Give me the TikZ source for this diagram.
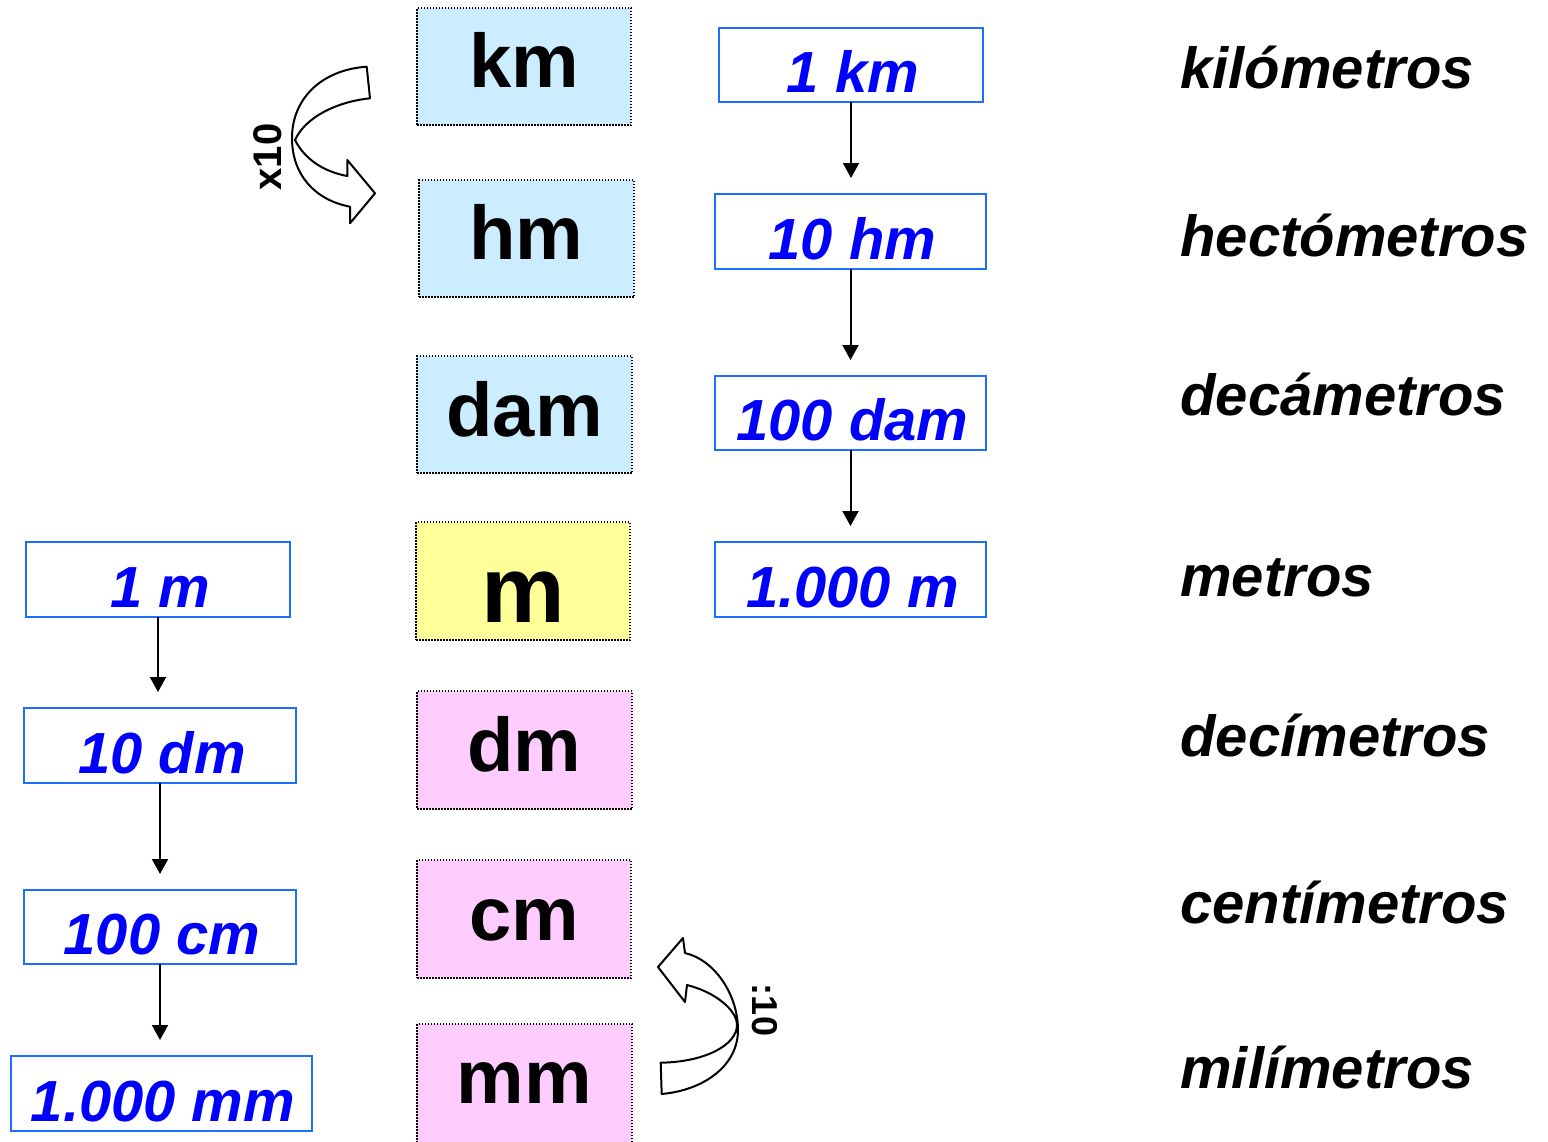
\documentclass[tikz,border=0pt]{standalone}
\usepackage{fontspec}
\setmainfont{Liberation Sans}
\usetikzlibrary{arrows.meta}
\definecolor{kmblue}{HTML}{CCECFF}
\definecolor{myyellow}{HTML}{FFFF99}
\definecolor{mypink}{HTML}{FFCCFF}
\definecolor{boxblue}{HTML}{1A6FFF}
\definecolor{txtblue}{HTML}{0000FF}
\tikzset{
 unitbox/.style={draw=black, line width=0.75pt, dash pattern=on 0.75pt off 0.75pt, inner sep=0pt, outer sep=0pt},
 valbox/.style={draw=boxblue, line width=1.35pt, fill=white, inner sep=0pt, outer sep=0pt},
 unittxt/.style={anchor=base, inner sep=0pt, font=\bfseries\fontsize{38}{40}\selectfont},
 valtxt/.style={anchor=base, inner sep=0pt, text=txtblue, font=\bfseries\itshape\fontsize{29}{31}\selectfont},
 lbltxt/.style={anchor=base west, inner sep=0pt, font=\bfseries\itshape\fontsize{29}{31}\selectfont},
 conv/.style={line width=1pt, -{Triangle[length=7.5pt,width=8pt]}, shorten >=8pt},
 bigarrow/.style={draw=black, line width=1pt, fill=white, line join=round}
}
\begin{document}
\begin{tikzpicture}[x=0.5pt,y=-0.5pt]
\path[use as bounding box] (0,0) rectangle (1548,1141);
% unit boxes
\node[unitbox, fill=kmblue, minimum width=107pt, minimum height=58.5pt] (ukm) at (524,66.5) {};
\node[unitbox, fill=kmblue, minimum width=107.5pt, minimum height=58.5pt] (uhm) at (526.5,238.5) {};
\node[unitbox, fill=kmblue, minimum width=107.5pt, minimum height=58.5pt] (udam) at (524.5,414.5) {};
\node[unitbox, fill=myyellow, minimum width=107pt, minimum height=59pt] (um) at (523,581) {};
\node[unitbox, fill=mypink, minimum width=107.5pt, minimum height=59pt] (udm) at (524.5,750) {};
\node[unitbox, fill=mypink, minimum width=107pt, minimum height=59pt] (ucm) at (524,919) {};
\node[unitbox, fill=mypink, minimum width=107.5pt, minimum height=61pt] (umm) at (524.5,1085) {};
\node[unittxt] (tkm) at (524,87) {km};
\node[unittxt] (thm) at (526.5,259) {hm};
\node[unittxt] (tdam) at (524.5,436) {dam};
\node[unittxt, font=\bfseries\fontsize{47}{50}\selectfont] (tm) at (523,622) {m};
\node[unittxt] (tdm) at (524.5,771) {dm};
\node[unittxt] (tcm) at (524,940) {cm};
\node[unittxt] (tmm) at (524.5,1103) {mm};
% right value boxes
\node[valbox, minimum width=132pt, minimum height=37pt] (r1) at (851,65) {};
\node[valbox, minimum width=135.5pt, minimum height=37.5pt] (r2) at (850.5,231.5) {};
\node[valbox, minimum width=135.5pt, minimum height=37pt] (r3) at (850.5,413) {};
\node[valbox, minimum width=135.5pt, minimum height=37.5pt] (r4) at (850.5,579.5) {};
\node[valtxt] (tr1) at (853,92) {1 km};
\node[valtxt] (tr2) at (852.5,259) {10 hm};
\node[valtxt] (tr3) at (852.5,440) {100 dam};
\node[valtxt] (tr4) at (852.5,607) {1.000 m};
\draw[conv] (r1.south) -- (r1.south |- r2.north);
\draw[conv] (r2.south) -- (r2.south |- r3.north);
\draw[conv] (r3.south) -- (r3.south |- r4.north);
% left value boxes
\node[valbox, minimum width=132pt, minimum height=37.5pt] (l1) at (158,579.5) {};
\node[valbox, minimum width=136pt, minimum height=37.5pt] (l2) at (160,745.5) {};
\node[valbox, minimum width=136pt, minimum height=37pt] (l3) at (160,927) {};
\node[valbox, minimum width=150.5pt, minimum height=37.5pt] (l4) at (161.5,1093.5) {};
\node[valtxt] (tl1) at (160,607) {1 m};
\node[valtxt] (tl2) at (162,773) {10 dm};
\node[valtxt] (tl3) at (162,954) {100 cm};
\node[valtxt] (tl4) at (163,1121) {\scalebox{1.0}[1]{1.000 mm}};
\draw[conv] (l1.south) -- (l1.south |- l2.north);
\draw[conv] (l2.south) -- (l2.south |- l3.north);
\draw[conv] (l3.south) -- (l3.south |- l4.north);
% names
\node[lbltxt] (n1) at (1180,88) {kilómetros};
\node[lbltxt] (n2) at (1180,256) {hectómetros};
\node[lbltxt] (n3) at (1180,415) {decámetros};
\node[lbltxt] (n4) at (1180,596) {metros};
\node[lbltxt] (n5) at (1180,756) {decímetros};
\node[lbltxt] (n6) at (1180,923) {centímetros};
\node[lbltxt] (n7) at (1180,1088) {milímetros};
% curved arrows
\draw[bigarrow] (366.7,66.7) -- (370,98.3)
  .. controls (335,102) and (305,118) .. (295,140)
  .. controls (305,160) and (325,172) .. (347.3,176)
  -- (347.3,160) -- (375,193.3) -- (350,223.3) -- (350,206.7)
  .. controls (315,200) and (292,175) .. (292,138)
  .. controls (292,100) and (320,70) .. (366.7,66.7) -- cycle;
\node[rotate=90, inner sep=0pt, font=\bfseries\fontsize{20}{22}\selectfont] (x10) at (268,157) {x10};
\draw[bigarrow] (661.7,1094)
  .. controls (705,1090) and (738,1065) .. (738,1030)
  .. controls (738,995) and (715,960) .. (685,953)
  -- (683,938) -- (658,967) -- (685,1002) -- (687,985)
  .. controls (715,992) and (737,1010) .. (737,1025)
  .. controls (737,1045) and (705,1062) .. (660.7,1062.7) -- cycle;
\node[rotate=-90, inner sep=0pt, font=\bfseries\fontsize{18}{20}\selectfont] (d10) at (765,1010) {:10};
\end{tikzpicture}
\end{document}
